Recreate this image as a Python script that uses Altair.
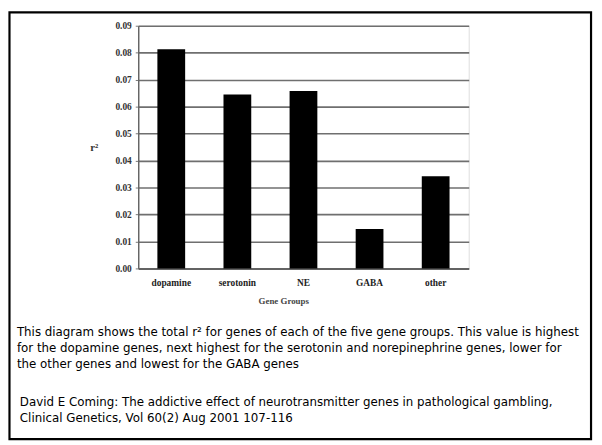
import altair as alt
import pandas as pd

groups = ["dopamine", "serotonin", "NE", "GABA", "other"]
r2_values = [0.0813, 0.0645, 0.0658, 0.0146, 0.0342]
y_ticks = [0.00, 0.01, 0.02, 0.03, 0.04, 0.05, 0.06, 0.07, 0.08, 0.09]

caption_lines = [
    " This diagram shows the total r\u00b2 for genes of each of the five gene groups. This value is highest",
    "for the dopamine genes, next highest for the serotonin and norepinephrine genes, lower for",
    "the other genes and lowest for the GABA genes",
]
citation_lines = [
    "David E Coming: The addictive effect of neurotransmitter genes in pathological gambling,",
    "Clinical Genetics, Vol 60(2) Aug 2001 107-116",
]

df = pd.DataFrame({"group": groups, "r2": r2_values})

W, H = 335, 246

bars = alt.Chart(df).mark_bar(color="black").encode(
    x=alt.X(
        "group:N",
        sort=groups,
        scale=alt.Scale(paddingInner=0.58, paddingOuter=0.29),
        axis=alt.Axis(
            title="Gene Groups",
            titleFont="Liberation Serif",
            titleFontSize=9,
            titleFontWeight="bold",
            titleColor="#444",
            titleX=147,
            titleY=29,
            titleAnchor="middle",
            labelAngle=0,
            labelFont="Liberation Serif",
            labelFontSize=9.5,
            labelFontWeight="bold",
            labelColor="#222",
            labelPadding=9,
            ticks=False,
            domain=True,
            domainColor="#555",
            domainWidth=1.5,
        ),
    ),
    y=alt.Y(
        "r2:Q",
        scale=alt.Scale(domain=[0, 0.09], nice=False),
        axis=alt.Axis(
            values=y_ticks,
            format=".2f",
            title="r\u00b2",
            titleAngle=0,
            titleFont="Liberation Serif",
            titleFontSize=11,
            titleFontWeight="bold",
            titleColor="#333",
            titleX=-45,
            titleY=128,
            labelFont="Liberation Serif",
            labelFontSize=9.5,
            labelFontWeight="bold",
            labelColor="#333",
            labelPadding=4,
            tickSize=3,
            tickColor="#777",
            grid=True,
            gridColor="#6f6f6f",
            gridWidth=1.6,
            domainColor="#666",
            domainWidth=1.5,
        ),
    ),
)

caption = alt.Chart(pd.DataFrame({"t": [0]})).mark_text(
    align="left", baseline="middle", font="DejaVu Sans", fontSize=12,
    lineHeight=16.5, color="black"
).encode(
    x=alt.value(17 - 140),
    y=alt.value(333 - 23),
    text=alt.value(caption_lines),
)

citation = alt.Chart(pd.DataFrame({"t": [0]})).mark_text(
    align="left", baseline="middle", font="DejaVu Sans", fontSize=12,
    lineHeight=16.5, color="black"
).encode(
    x=alt.value(20 - 140),
    y=alt.value(404 - 23),
    text=alt.value(citation_lines),
)

frame = alt.Chart(pd.DataFrame({"t": [0]})).mark_rect(
    filled=False, stroke="black", strokeWidth=2.2
).encode(
    x=alt.value(9.5 - 140),
    x2=alt.value(599 - 140),
    y=alt.value(9.5 - 23),
    y2=alt.value(442 - 23),
)

chart = alt.layer(bars, caption, citation, frame).properties(
    width=W,
    height=H,
    autosize=alt.AutoSizeParams(type="none"),
    padding={"left": 132, "top": 15, "right": 127, "bottom": 176},
).configure_view(
    stroke="#777", strokeWidth=1.5
).configure(background="white")

chart.save("out.html", embed_options={"renderer": "svg", "actions": False})
